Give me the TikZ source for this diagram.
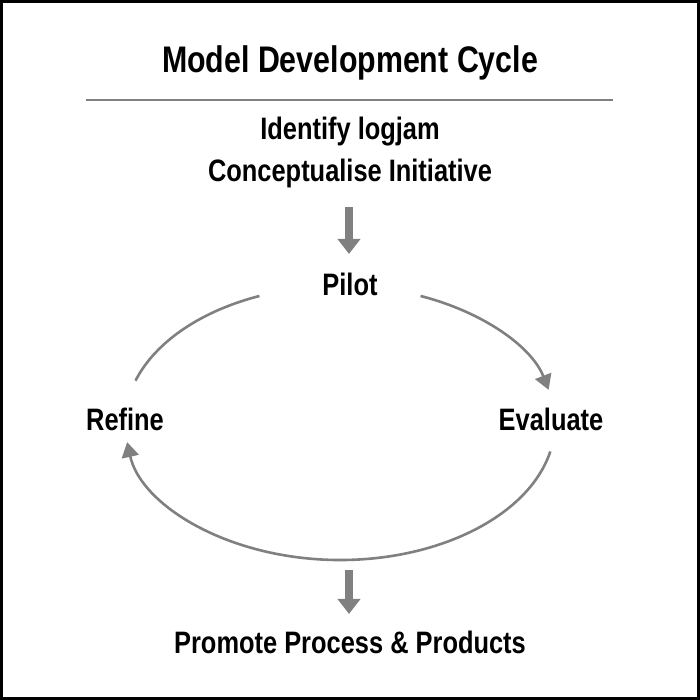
\documentclass[tikz,border=0pt]{standalone}
\usepackage{fontspec}
\setmainfont{Liberation Sans}[FakeStretch=0.82]
\usetikzlibrary{arrows.meta}
\definecolor{cyclegray}{RGB}{128,128,128}
\tikzset{
  label/.style={font=\bfseries\fontsize{31}{36}\selectfont, inner sep=2pt},
  cyclearrow/.style={cyclegray, line width=2.6pt, -{Triangle[width=17pt,length=15pt]}},
  blockarrow/.style={cyclegray, line width=8pt, -{Triangle[width=22pt,length=15pt]}}
}
\begin{document}
\begin{tikzpicture}[x=1pt,y=1pt]
  \useasboundingbox (0,0) rectangle (700,700);
  % frame
  \draw [line width=2.5pt] (1.5,1.5) rectangle (698.5,698.5);

  % heading
  \node [label, font=\bfseries\fontsize{37}{42}\selectfont] (title) at (350,637) {Model Development Cycle};
  \draw [cyclegray, line width=2pt] (86,600) -- (613,600);
  \node [label] (identify) at (350,568) {Identify logjam};
  \node [label] (concept)  at (350,527) {Conceptualise Initiative};

  % cycle labels
  \node [label] (pilot)    at (350,416) {Pilot};
  \node [label] (refine)   at (125,281) {Refine};
  \node [label] (evaluate) at (551,281) {Evaluate};
  \node [label] (promote)  at (350,58)  {Promote Process \& Products};

  % block arrows
  \coordinate (topend) at (349,446);
  \coordinate (botstart) at (349,131);
  \draw [blockarrow] (349,493) -- (topend);
  \draw [blockarrow] (349,130) -- (349,86);

  % cycle arcs
  \draw [cyclegray, line width=2.6pt] (340,277) ++(112:215 and 137) arc [start angle=112, end angle=162, x radius=215, y radius=137];
  \draw [cyclearrow] (340,277) ++(68:215 and 137) arc [start angle=68, end angle=14, x radius=215, y radius=137];
  \draw [cyclearrow] (340,277) ++(-12:215 and 137) arc [start angle=-12, end angle=-172, x radius=215, y radius=137];
\end{tikzpicture}
\end{document}
